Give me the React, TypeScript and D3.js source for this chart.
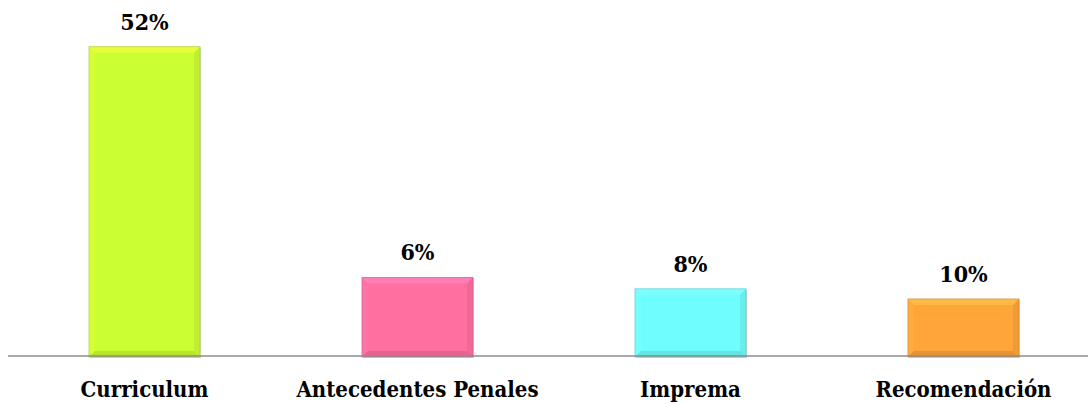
import { useEffect, useRef } from 'react'
import * as d3 from 'd3'

// categories and values
const categories = ['Curriculum', 'Antecedentes Penales', 'Imprema', 'Recomendación']
// bar heights as drawn in the picture (they don't follow the printed labels)
const barValues = [52, 13.2, 11.3, 9.6]
const valueLabels = ['52%', '6%', '8%', '10%']
const barColors = ['#ccff33', '#ff6fa0', '#6ffdfd', '#ffa53a']

const WIDTH = 1088
const HEIGHT = 404

const App = () => {
	const svgRef = useRef<SVGSVGElement>(null)

	useEffect(() => {
		const svg = d3.select(svgRef.current)
		svg.selectAll('*').remove()

		const baseline = 356
		const x = d3
			.scaleBand()
			.domain(categories)
			.range([8, 1100])
			.paddingInner(0.593)
			.paddingOuter(0.2966)
		const y = d3.scaleLinear().domain([0, 52]).range([baseline, 46.7])

		const font = "'DejaVu Serif Condensed', 'DejaVu Serif', serif"
		const bevel = 6

		const bars = svg
			.selectAll('g.bar')
			.data(categories)
			.enter()
			.append('g')
			.attr('class', 'bar')

		bars.each(function (c, i) {
			const g = d3.select(this)
			const x0 = x(c) as number
			const x1 = x0 + x.bandwidth()
			const y0 = y(barValues[i])
			const y1 = baseline + 1
			const col = d3.color(barColors[i]) as d3.RGBColor
			const b = Math.min(bevel, (y1 - y0) / 2)

			// soft shadow
			g.append('rect')
				.attr('x', x0 + 1)
				.attr('y', y0 + 1)
				.attr('width', x1 - x0)
				.attr('height', y1 - y0)
				.attr('fill', '#000')
				.attr('opacity', 0.15)

			// face
			g.append('rect')
				.attr('x', x0)
				.attr('y', y0)
				.attr('width', x1 - x0)
				.attr('height', y1 - y0)
				.attr('fill', col.formatHex())

			const poly = (pts: number[][], fill: string) =>
				g.append('polygon').attr('points', pts.map((p) => p.join(',')).join(' ')).attr('fill', fill)

			// bevel edges
			poly([[x0, y0], [x1, y0], [x1 - b, y0 + b], [x0 + b, y0 + b]], col.brighter(0.35).formatHex())
			poly([[x0, y0], [x0 + b, y0 + b], [x0 + b, y1 - b], [x0, y1]], col.brighter(0.12).formatHex())
			poly([[x1, y0], [x1, y1], [x1 - b, y1 - b], [x1 - b, y0 + b]], col.darker(0.18).formatHex())
			poly([[x0, y1], [x0 + b, y1 - b], [x1 - b, y1 - b], [x1, y1]], col.darker(0.3).formatHex())

			g.append('rect')
				.attr('x', x0)
				.attr('y', y0)
				.attr('width', x1 - x0)
				.attr('height', y1 - y0)
				.attr('fill', 'none')
				.attr('stroke', col.darker(0.8).formatHex())
				.attr('stroke-width', 1)
				.attr('opacity', 0.5)

			// value label
			g.append('text')
				.attr('x', x0 + x.bandwidth() / 2)
				.attr('y', y0 - 17)
				.attr('text-anchor', 'middle')
				.attr('font-family', font)
				.attr('font-weight', 'bold')
				.attr('font-size', 23)
				.attr('fill', '#000')
				.text(valueLabels[i])
		})

		// x axis line
		svg
			.append('line')
			.attr('x1', 8)
			.attr('x2', WIDTH)
			.attr('y1', baseline)
			.attr('y2', baseline)
			.attr('stroke', '#8c8c8c')
			.attr('stroke-width', 1.5)

		// category labels
		svg
			.selectAll('text.cat')
			.data(categories)
			.enter()
			.append('text')
			.attr('class', 'cat')
			.attr('x', (d) => (x(d) as number) + x.bandwidth() / 2)
			.attr('y', 397)
			.attr('text-anchor', 'middle')
			.attr('font-family', font)
			.attr('font-weight', 'bold')
			.attr('font-size', 22)
			.attr('fill', '#000')
			.text((d) => d)
	}, [])

	return (
		<svg
			ref={svgRef}
			width={WIDTH}
			height={HEIGHT}
			style={{ position: 'absolute', left: 0, top: 0, background: '#fff' }}
		></svg>
	)
}

export default App
